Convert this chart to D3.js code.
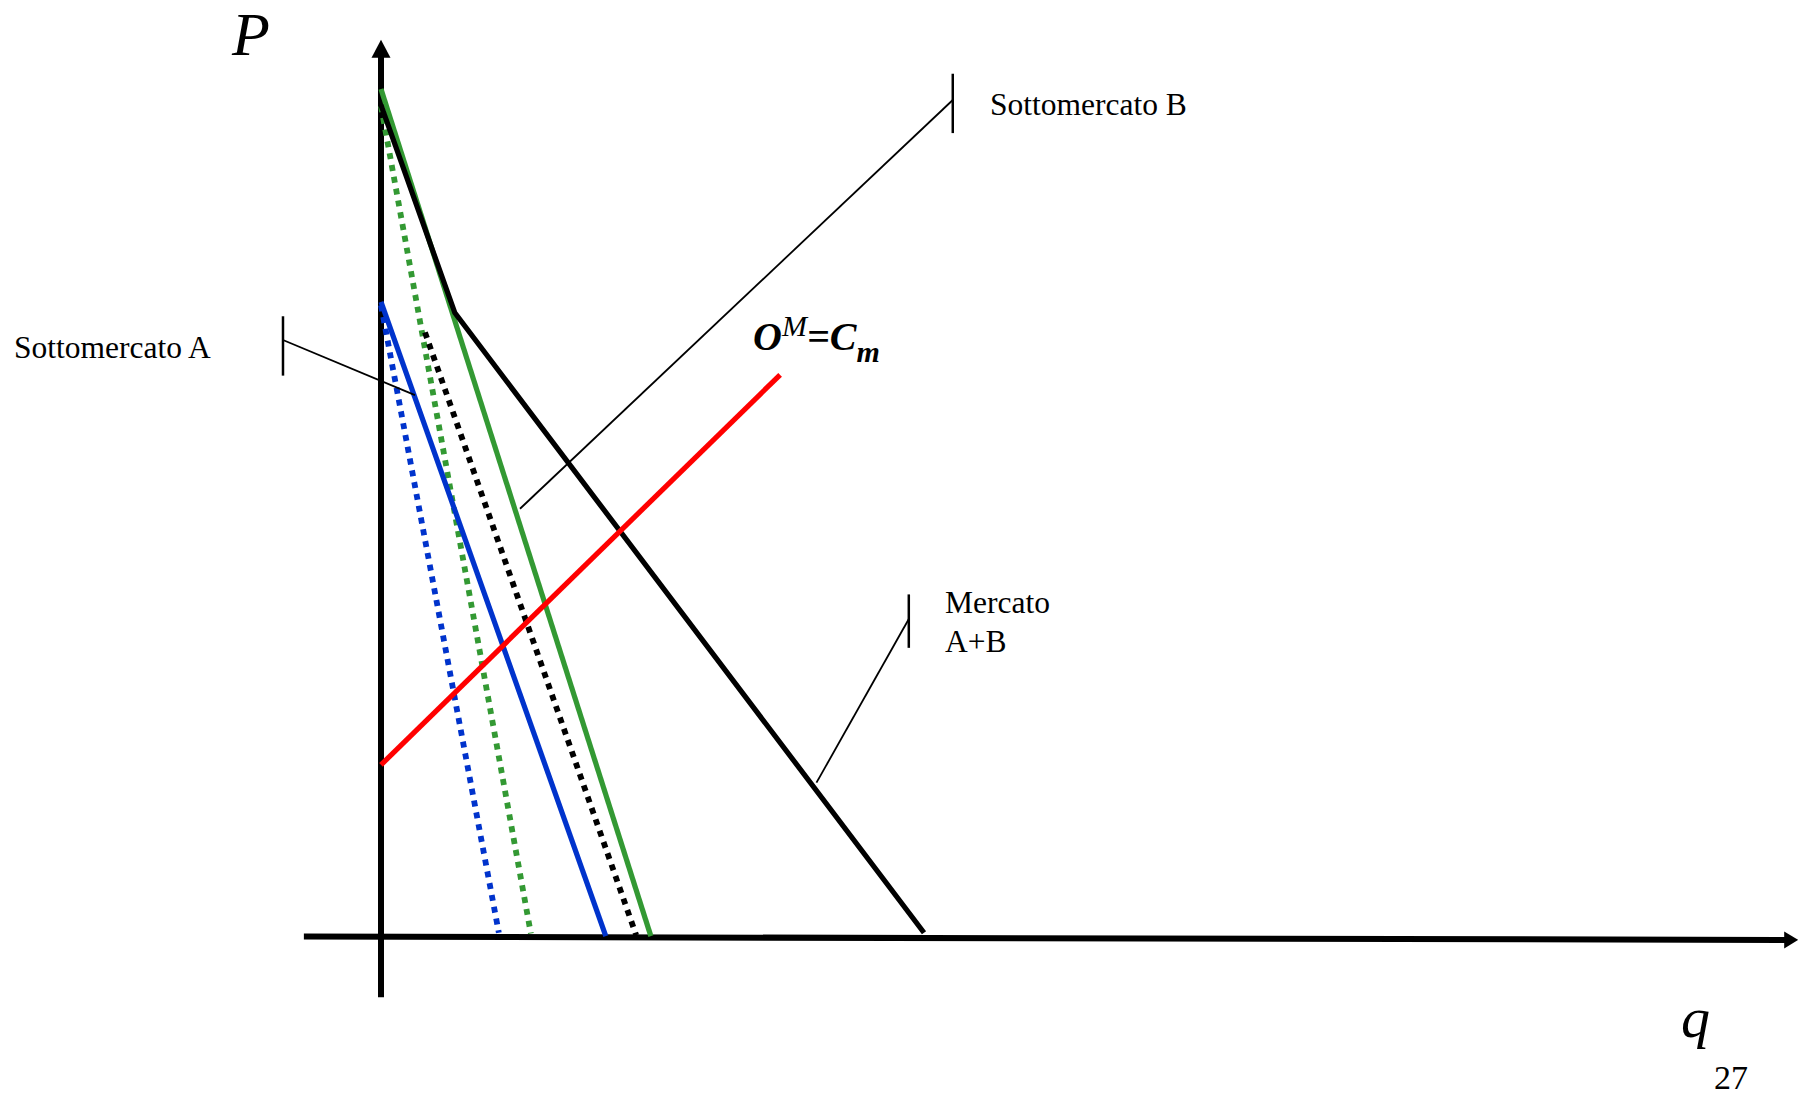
<!DOCTYPE html>
<html>
<head>
<meta charset="utf-8">
<script src="https://cdn.jsdelivr.net/npm/d3@7"></script>
<style>
  body { margin: 0; background: #fff; }
  svg { display: block; }
  text { font-family: "Liberation Serif", "Times New Roman", serif; fill: #000; }
</style>
</head>
<body>
<svg id="chart" width="1798" height="1095"></svg>
<script>
// ---- data (q, P) ----
const demandB      = [[0, 100], [49.7, 0.1]];
const mrB          = [[0, 98], [27.6, 0.4]];
const demandA      = [[0, 74.9], [41.4, 0.1]];
const mrA          = [[0, 74.5], [21.7, 0.5]];
const marketDemand = [[0, 98.1], [13.6, 73.6], [100, 0.5]];
const marketMR     = [[8.1, 71.3], [47, 0.2]];
const marginalCost = [[0, 20.3], [73.5, 66.3]];

// axis extents
const qAxis = [[-14.2, 0.05], [258.6, -0.35]];
const pAxis = [[0, -7.1], [0, 103.8]];

// annotation brackets + leaders
const notes = [
  { label: ["Sottomercato A"], bracket: [-18.05, 73.2, 66.2], from: [-18.05, 70.4], to: [6.26, 63.9] },
  { label: ["Sottomercato B"], bracket: [105.3, 101.8, 94.8], from: [105.3, 98.7], to: [25.6, 50.5] },
  { label: ["Mercato", "A+B"], bracket: [97.2, 40.4, 34.1], from: [97.2, 37.5], to: [80.2, 18.2] }
];

const svg = d3.select('#chart');

// scales
const x = d3.scaleLinear().domain([0, 100]).range([381, 924]);
const y = d3.scaleLinear().domain([0, 100]).range([937, 89]);

const line = d3.line().x(d => x(d[0])).y(d => y(d[1]));

// axes
const axisG = svg.append('g').attr('class', 'axes');
axisG.append('path')
     .attr('d', line(qAxis))
     .attr('stroke', '#000').attr('stroke-width', 6).attr('fill', 'none');
axisG.append('path')
     .attr('d', line(pAxis))
     .attr('stroke', '#000').attr('stroke-width', 6).attr('fill', 'none');

// arrowheads
const qEnd = qAxis[1], pEnd = pAxis[1];
axisG.append('polygon')
     .attr('points', [[x(qEnd[0]) - 1, y(qEnd[1]) - 8.5], [x(qEnd[0]) + 13, y(qEnd[1])], [x(qEnd[0]) - 1, y(qEnd[1]) + 8.5]].join(' '))
     .attr('fill', '#000');
axisG.append('polygon')
     .attr('points', [[x(pEnd[0]) - 9.5, y(pEnd[1]) + 1], [x(pEnd[0]), y(pEnd[1]) - 17], [x(pEnd[0]) + 9.5, y(pEnd[1]) + 1]].join(' '))
     .attr('fill', '#000');

// curves
const series = [
  { data: mrA,          color: '#0033cc', dash: '6 6' },
  { data: mrB,          color: '#339933', dash: '6 6' },
  { data: marketMR,     color: '#000000', dash: '6 6' },
  { data: demandA,      color: '#0033cc', dash: null },
  { data: demandB,      color: '#339933', dash: null },
  { data: marketDemand, color: '#000000', dash: null },
  { data: marginalCost, color: '#ff0000', dash: null }
];

svg.append('g').attr('class', 'curves')
   .selectAll('path')
   .data(series)
   .join('path')
   .attr('d', d => line(d.data))
   .attr('fill', 'none')
   .attr('stroke', d => d.color)
   .attr('stroke-width', d => d.dash ? 5.8 : 5.2)
   .attr('stroke-dasharray', d => d.dash)
   .attr('stroke-linejoin', 'miter');

// annotations
const noteG = svg.append('g').attr('class', 'notes');
notes.forEach(n => {
  noteG.append('line')
       .attr('x1', x(n.bracket[0])).attr('x2', x(n.bracket[0]))
       .attr('y1', y(n.bracket[1])).attr('y2', y(n.bracket[2]))
       .attr('stroke', '#000').attr('stroke-width', 2.5);
  noteG.append('line')
       .attr('x1', x(n.from[0])).attr('y1', y(n.from[1]))
       .attr('x2', x(n.to[0])).attr('y2', y(n.to[1]))
       .attr('stroke', '#000').attr('stroke-width', 1.8);
});

// labels
const labelG = svg.append('g').attr('class', 'labels').style('font-size', '31.5px');
labelG.append('text').attr('x', 14).attr('y', 358).text(notes[0].label[0]);
labelG.append('text').attr('x', 990).attr('y', 115).text(notes[1].label[0]);
labelG.append('text').attr('x', 945).attr('y', 613).text(notes[2].label[0]);
labelG.append('text').attr('x', 945).attr('y', 652).text(notes[2].label[1]);

// O^M = C_m
const om = svg.append('text')
              .attr('x', 753).attr('y', 350)
              .style('font-size', '40px')
              .style('font-style', 'italic')
              .style('font-weight', 'bold');
om.append('tspan').text('O');
om.append('tspan').attr('dy', -14).style('font-size', '30px').style('font-weight', 'normal').text('M');
om.append('tspan').attr('dy', 14).text('=C');
om.append('tspan').attr('dy', 12).style('font-size', '30px').text('m');

// axis titles
svg.append('text').attr('x', 232).attr('y', 55)
   .style('font-size', '62px').style('font-style', 'italic').text('P');
svg.append('text').attr('x', 1681).attr('y', 1037)
   .style('font-size', '58px').style('font-style', 'italic').text('q');
svg.append('text').attr('x', 1714).attr('y', 1089)
   .style('font-size', '34px').text('27');
</script>
</body>
</html>
